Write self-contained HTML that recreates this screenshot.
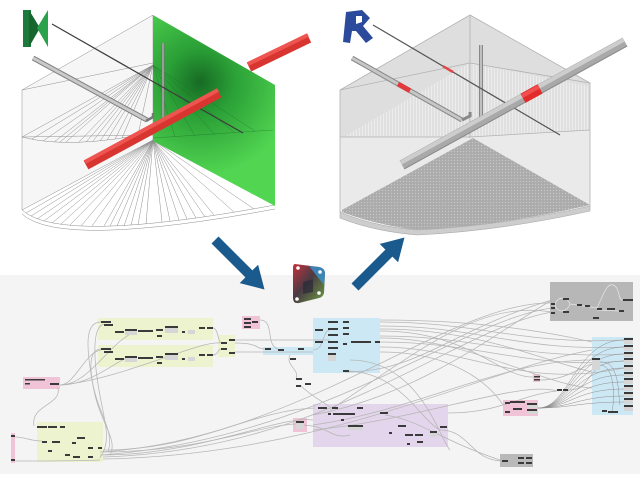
<!DOCTYPE html>
<html><head><meta charset="utf-8"><style>
html,body{margin:0;padding:0;background:#fff;}
svg{display:block;}
.d{fill:#3a3a3a}.l{fill:#d6d6d6}.w{fill:none;stroke:#b6b6b6;stroke-width:.75}
.f{stroke:#8e8e8e;stroke-width:.5;fill:none}
</style></head><body>
<svg width="640" height="480" viewBox="0 0 640 480" xmlns="http://www.w3.org/2000/svg">
<defs>
<radialGradient id="gg" cx="200" cy="82" r="95" gradientUnits="userSpaceOnUse">
<stop offset="0" stop-color="#176a24"/><stop offset="0.35" stop-color="#2a9f36"/><stop offset="1" stop-color="#52d652"/></radialGradient>
<pattern id="hatch" width="3" height="6" patternUnits="userSpaceOnUse"><rect width="3" height="6" fill="#ececec"/><line x1="1" y1="0" x2="1" y2="6" stroke="#c4c4c4" stroke-width=".6"/></pattern>
<pattern id="dots" width="3" height="3" patternUnits="userSpaceOnUse"><rect width="3" height="3" fill="#ababab"/><circle cx="1.5" cy="1.5" r=".7" fill="#c6c6c6"/></pattern>
<linearGradient id="dyn" x1="0" y1="0" x2="1" y2="1"><stop offset="0" stop-color="#c8323a"/><stop offset=".45" stop-color="#4a3a44"/><stop offset="1" stop-color="#6aa040"/></linearGradient>
</defs>

<!-- ============ LEFT SCENE ============ -->
<polygon points="22,90 153,15 153,140 22,210" fill="#f6f6f6"/>
<g class="f">
<line x1="22" y1="90" x2="22" y2="210"/>
<line x1="22" y1="90" x2="153" y2="15"/>
<line x1="22" y1="90" x2="153" y2="63"/>
<line x1="22" y1="137" x2="153" y2="135"/>
<line x1="22" y1="210" x2="153" y2="140"/>
<line x1="153" y1="15" x2="153" y2="140"/>
<path d="M22,210 Q60,245 275,205"/>
<path d="M22,214 Q60,249 275,209"/>
<path d="M22,137 Q70,150 155,132"/>
<line x1="153" y1="65" x2="22" y2="137"/><line x1="153" y1="65" x2="32" y2="139"/>
<line x1="153" y1="65" x2="43" y2="141"/><line x1="153" y1="65" x2="54" y2="142"/>
<line x1="153" y1="65" x2="66" y2="142"/><line x1="153" y1="65" x2="79" y2="142"/>
<line x1="153" y1="65" x2="93" y2="141"/><line x1="153" y1="65" x2="107" y2="140"/>
<line x1="153" y1="65" x2="122" y2="138"/><line x1="153" y1="65" x2="138" y2="135"/>
<line x1="153" y1="65" x2="60" y2="142"/><line x1="153" y1="65" x2="100" y2="141"/>
<line x1="153" y1="65" x2="86" y2="142"/><line x1="153" y1="65" x2="115" y2="139"/>
<line x1="153" y1="140" x2="26" y2="213"/><line x1="153" y1="140" x2="31" y2="216"/>
<line x1="153" y1="140" x2="37" y2="219"/><line x1="153" y1="140" x2="44" y2="221"/>
<line x1="153" y1="140" x2="52" y2="223"/><line x1="153" y1="140" x2="61" y2="224"/>
<line x1="153" y1="140" x2="70" y2="225"/><line x1="153" y1="140" x2="81" y2="226"/>
<line x1="153" y1="140" x2="92" y2="226"/><line x1="153" y1="140" x2="104" y2="226"/>
<line x1="153" y1="140" x2="117" y2="226"/><line x1="153" y1="140" x2="131" y2="225"/>
<line x1="153" y1="140" x2="146" y2="224"/><line x1="153" y1="140" x2="162" y2="222"/>
<line x1="153" y1="140" x2="179" y2="220"/><line x1="153" y1="140" x2="196" y2="218"/>
<line x1="153" y1="140" x2="214" y2="215"/><line x1="153" y1="140" x2="234" y2="212"/>
<line x1="153" y1="140" x2="254" y2="209"/><line x1="153" y1="140" x2="275" y2="205"/>
<line x1="153" y1="140" x2="110" y2="226"/><line x1="153" y1="140" x2="124" y2="226"/>
<line x1="153" y1="140" x2="138" y2="225"/><line x1="153" y1="140" x2="170" y2="221"/>
<line x1="153" y1="140" x2="187" y2="219"/><line x1="153" y1="140" x2="205" y2="217"/>
</g>
<polygon points="153,15 275,85 275,206 153,141" fill="url(#gg)"/>
<g stroke="#1d6b28" stroke-width=".5" opacity=".6">
<line x1="153" y1="65" x2="175" y2="137"/><line x1="153" y1="65" x2="195" y2="136"/>
<line x1="153" y1="65" x2="215" y2="135"/><line x1="153" y1="65" x2="235" y2="133"/>
<line x1="153" y1="65" x2="255" y2="131"/><line x1="153" y1="138" x2="273" y2="130"/>
</g>
<line x1="33" y1="58" x2="147" y2="120" stroke="#7f7f7f" stroke-width="5"/>
<line x1="33" y1="58" x2="147" y2="120" stroke="#c9c9c9" stroke-width="3"/>
<line x1="163" y1="43" x2="163" y2="124" stroke="#6f6f6f" stroke-width="3"/>
<line x1="163" y1="43" x2="163" y2="124" stroke="#b5b5b5" stroke-width="1.3"/>
<path d="M146,121 L153,117 L153,113" stroke="#777" stroke-width="2.5" fill="none"/>
<line x1="52" y1="24" x2="243" y2="133" stroke="#3d3d3d" stroke-width="1.2"/>
<line x1="86" y1="165" x2="219" y2="93" stroke="#d83530" stroke-width="10"/>
<line x1="85" y1="162" x2="218" y2="90" stroke="#ef5550" stroke-width="4"/>
<line x1="249" y1="67" x2="309" y2="38" stroke="#d83530" stroke-width="10"/>
<line x1="248" y1="64" x2="308" y2="35" stroke="#ef5550" stroke-width="4"/>
<polygon points="23,10 31,10 31,47 23,47" fill="#1e7a3c"/>
<polygon points="29,10 40,28 29,47" fill="#17652f"/>
<polygon points="48,10 37,28 48,47" fill="#2aa24c"/>

<!-- ============ RIGHT SCENE ============ -->
<polygon points="340,90 470,15 590,83 590,207 340,212" fill="#dedede"/>
<path d="M345,136 L470,63 L588,86 L588,130 Q480,142 345,136Z" fill="url(#hatch)"/>
<polygon points="340,137 470,137 590,130 590,207 340,212" fill="#eaeaea"/>
<path d="M342,210 L473,138 L590,205 Q500,226 417,230 Q372,224 342,212Z" fill="url(#dots)"/>
<path d="M340,212 Q372,226 417,230 Q500,226 590,206 L590,211 Q500,231 417,235 Q372,231 340,218Z" fill="#cdcdcd" stroke="#a9a9a9" stroke-width=".6"/>
<g stroke="#b2b2b2" stroke-width=".8" fill="none">
<polyline points="340,212 340,90 470,15 590,83 590,207"/>
<line x1="470" y1="15" x2="470" y2="138"/>
<line x1="340" y1="137" x2="470" y2="137"/>
<line x1="470" y1="137" x2="590" y2="130"/>
<line x1="340" y1="90" x2="470" y2="63"/>
<line x1="470" y1="63" x2="590" y2="83"/>
</g>
<line x1="352" y1="58" x2="462" y2="120" stroke="#858585" stroke-width="5"/>
<line x1="352" y1="58" x2="462" y2="120" stroke="#c6c6c6" stroke-width="3"/>
<line x1="398" y1="84" x2="410" y2="90.7" stroke="#e03a3a" stroke-width="5"/>
<line x1="481" y1="45" x2="481" y2="122" stroke="#888" stroke-width="4"/>
<line x1="481" y1="45" x2="481" y2="122" stroke="#c0c0c0" stroke-width="2"/>
<path d="M462,120 L470,116 L470,112" stroke="#888" stroke-width="3" fill="none"/>
<line x1="373" y1="25" x2="560" y2="135" stroke="#555" stroke-width="1.2"/>
<line x1="443" y1="66.2" x2="453" y2="72" stroke="#e04848" stroke-width="2.5"/>
<line x1="402" y1="165" x2="625" y2="42" stroke="#a9a9a9" stroke-width="10"/>
<line x1="400.8" y1="162.8" x2="623.8" y2="39.8" stroke="#cdcdcd" stroke-width="4"/>
<line x1="404.2" y1="168.9" x2="627.2" y2="45.9" stroke="#8a8a8a" stroke-width="1"/>
<line x1="523" y1="98.3" x2="540" y2="88.9" stroke="#e22c2c" stroke-width="10.5"/>
<line x1="522" y1="96" x2="539" y2="86.6" stroke="#f25050" stroke-width="4"/>
<polygon points="346,12 362,10 370,18 363,26 373,38 366,43 356,31 352,31 350,43 343,42" fill="#2b4a9c"/>
<polygon points="356,16 362,16 362,22 356,24" fill="#fff"/>

<!-- ============ GRAPH ============ -->
<rect x="0" y="275" width="640" height="199" fill="#f4f4f4"/>
<g>
<rect x="98" y="318" width="115" height="22" fill="#edf2cf"/>
<rect x="98" y="345" width="115" height="22" fill="#edf2cf"/>
<rect x="218" y="335" width="17" height="22" fill="#edf2cf"/>
<rect x="37" y="422" width="66" height="40" fill="#edf2cf"/>
<rect x="23" y="377" width="37" height="12" fill="#f0c4d6"/>
<rect x="11" y="433" width="4" height="30" fill="#f0c4d6"/>
<rect x="242" y="316" width="18" height="13" fill="#f0c4d6"/>
<rect x="293" y="418" width="14" height="14" fill="#f0c4d6"/>
<rect x="503" y="400" width="35" height="16" fill="#f0c4d6"/>
<rect x="533" y="374" width="7" height="8" fill="#f0c4d6"/>
<rect x="313" y="318" width="67" height="55" fill="#cde8f5"/>
<rect x="263" y="347" width="50" height="8" fill="#cde8f5"/>
<rect x="592" y="337" width="41" height="78" fill="#cde8f5"/>
<rect x="313" y="404" width="135" height="43" fill="#e3d5eb"/>
<rect x="550" y="282" width="83" height="39" fill="#b7b7b7"/>
<rect x="500" y="454" width="33" height="13" fill="#b9b9b9"/>
</g>
<g class="w">
<path d="M60,385 C90,385 110,340 137,331"/>
<path d="M60,385 C90,385 115,362 127,358"/>
<path d="M60,385 C75,385 85,352 101,350"/>
<path d="M58,388 C62,405 30,405 34,426"/>
<path d="M101,322 C85,322 86,345 92,380 C98,415 115,430 108,452"/>
<path d="M101,349 C90,349 88,365 95,395 C102,425 118,440 110,455"/>
<path d="M104,324 C94,326 92,350 99,390 C105,425 112,440 100,458"/>
<path d="M15,461 C60,461 80,461 100,460"/>
<path d="M15,437 C25,437 30,441 42,441"/>
<path d="M103,450 C200,450 250,410 315,408"/>
<path d="M103,452 C200,452 260,425 296,424"/>
<path d="M103,455 C200,455 280,415 313,420"/>
<path d="M100,452 C300,440 450,300 552,303"/>
<path d="M100,455 C320,440 460,320 552,308"/>
<path d="M103,457 C330,450 450,330 552,312"/>
<path d="M330,410 C420,350 480,300 552,312"/>
<path d="M313,425 C420,410 500,360 592,360"/>
<path d="M313,430 C420,420 520,380 557,391"/>
<path d="M313,415 C420,395 500,330 552,300"/>
<path d="M103,459 C330,455 480,370 592,350"/>
<path d="M380,322 C480,322 520,345 624,340"/>
<path d="M380,326 C480,326 520,352 624,347"/>
<path d="M380,331 C470,331 500,378 533,377"/>
<path d="M380,336 C480,336 520,360 624,354"/>
<path d="M380,342 C480,342 530,370 624,361"/>
<path d="M380,347 C470,347 520,390 624,368"/>
<path d="M380,352 C470,352 500,400 503,405"/>
<path d="M380,320 C470,320 540,330 592,342"/>
<path d="M380,329 C480,329 540,360 592,372"/>
<path d="M380,338 C470,338 540,385 592,388"/>
<path d="M345,371 C400,371 420,420 440,430"/>
<path d="M350,360 C420,360 440,440 450,450"/>
<path d="M345,372 C420,372 450,330 552,300"/>
<path d="M440,430 C470,430 470,460 502,461"/>
<path d="M448,413 C500,413 520,395 557,391"/>
<path d="M213,328 C218,328 218,342 221,343"/>
<path d="M213,355 C218,355 218,349 221,349"/>
<path d="M235,343 C260,343 255,349 265,349"/>
<path d="M235,352 L313,352"/>
<path d="M235,340 L330,340"/>
<path d="M260,320 C275,320 265,345 278,349"/>
<path d="M290,355 C285,365 300,370 296,378"/>
<path d="M300,385 C310,395 320,400 330,407"/>
<path d="M313,350 C325,350 322,330 330,330"/>
<path d="M568,390 C585,390 585,380 600,365"/>
<path d="M540,380 C570,380 580,365 600,362"/>
<path d="M60,385 C120,380 200,340 220,343"/>
<path d="M300,425 C330,425 330,440 350,435"/>
<path d="M385,415 C420,420 440,440 500,460"/>
</g>
<g fill="none" stroke="#8e8e8e" stroke-width=".5">
<path d="M538,408 C570,408 575,340 624,340"/><path d="M538,408 C570,408 575,347 624,347"/>
<path d="M538,408 C570,408 575,354 624,354"/><path d="M538,408 C570,408 575,361 624,361"/>
<path d="M538,408 C570,408 575,368 624,368"/><path d="M538,408 C570,408 575,375 624,375"/>
<path d="M538,408 C570,408 575,382 624,382"/><path d="M538,408 C570,408 575,389 624,389"/>
<path d="M538,408 C570,408 580,396 624,396"/><path d="M538,408 C570,408 580,402 624,402"/>
<path d="M600,365 C615,365 615,400 612,411"/><path d="M600,362 C620,360 618,395 620,405"/>
</g>
<g stroke="#e6e6e6" stroke-width=".7" fill="none">
<path d="M555,305 C557,296 567,296 570,304 C567,313 557,313 555,305"/>
<path d="M597,308 C605,290 608,283 613,285 C620,287 618,300 622,300"/>
<path d="M570,304 L597,308"/><path d="M597,310 L619,311"/>
</g>
<g class="d">
<rect x="101" y="321" width="10" height="2"/><rect x="104" y="324" width="9" height="2"/><rect x="115" y="331" width="9" height="2"/>
<rect x="125" y="329" width="12" height="2"/><rect x="138" y="330" width="15" height="2"/><rect x="156" y="329" width="7" height="2"/>
<rect x="157" y="335" width="5" height="2"/><rect x="165" y="326" width="13" height="2"/><rect x="182" y="331" width="3" height="2"/>
<rect x="199" y="327" width="6" height="2"/><rect x="207" y="327" width="6" height="2"/>
<rect x="101" y="348" width="10" height="2"/><rect x="104" y="351" width="9" height="2"/><rect x="115" y="358" width="9" height="2"/>
<rect x="125" y="356" width="12" height="2"/><rect x="138" y="357" width="15" height="2"/><rect x="156" y="356" width="7" height="2"/>
<rect x="157" y="362" width="5" height="2"/><rect x="165" y="353" width="13" height="2"/><rect x="182" y="358" width="3" height="2"/>
<rect x="199" y="354" width="6" height="2"/><rect x="207" y="354" width="6" height="2"/>
<rect x="221" y="342" width="6" height="2"/><rect x="229" y="339" width="6" height="2"/><rect x="221" y="348" width="6" height="2"/><rect x="229" y="352" width="6" height="2"/>
<rect x="25" y="379" width="20" height="1.5"/><rect x="25" y="383" width="5" height="1.5"/><rect x="50" y="383" width="9" height="2"/>
<rect x="11" y="435" width="4" height="2"/><rect x="11" y="459" width="4" height="2"/>
<rect x="37" y="426" width="10" height="2"/><rect x="48" y="426" width="9" height="2"/><rect x="60" y="426" width="5" height="2"/>
<rect x="42" y="441" width="5" height="2"/><rect x="52" y="441" width="8" height="2"/><rect x="48" y="450" width="4" height="2"/>
<rect x="72" y="442" width="4" height="2"/><rect x="77" y="437" width="8" height="2"/><rect x="65" y="454" width="5" height="2"/>
<rect x="73" y="456" width="7" height="2"/><rect x="88" y="447" width="5" height="2"/><rect x="98" y="447" width="4" height="2"/><rect x="88" y="456" width="5" height="2"/>
<rect x="244" y="318" width="7" height="2"/><rect x="244" y="322" width="7" height="2"/><rect x="252" y="321" width="6" height="2"/><rect x="244" y="326" width="7" height="2"/>
<rect x="265" y="348" width="6" height="2"/><rect x="278" y="349" width="6" height="2"/><rect x="298" y="348" width="6" height="2"/>
<rect x="290" y="358" width="6" height="2"/><rect x="296" y="378" width="6" height="2"/><rect x="305" y="383" width="6" height="2"/><rect x="296" y="385" width="5" height="2"/>
<rect x="328" y="321" width="10" height="2"/><rect x="328" y="328" width="10" height="2"/><rect x="328" y="334" width="10" height="2"/>
<rect x="328" y="341" width="10" height="2"/><rect x="328" y="347" width="10" height="2"/><rect x="328" y="353" width="8" height="2"/>
<rect x="343" y="321" width="6" height="2"/><rect x="343" y="327" width="6" height="2"/><rect x="343" y="333" width="6" height="2"/>
<rect x="343" y="343" width="4" height="2"/><rect x="351" y="341" width="20" height="2"/><rect x="375" y="341" width="5" height="2"/>
<rect x="315" y="329" width="8" height="2"/><rect x="315" y="341" width="8" height="2"/><rect x="343" y="370" width="6" height="2"/>
<rect x="318" y="407" width="9" height="2"/><rect x="332" y="407" width="6" height="2"/><rect x="357" y="407" width="6" height="2"/>
<rect x="333" y="413" width="22" height="2"/><rect x="328" y="413" width="3" height="2"/><rect x="341" y="419" width="3" height="2"/>
<rect x="348" y="425" width="15" height="2"/><rect x="380" y="412" width="8" height="2"/><rect x="389" y="432" width="3" height="2"/>
<rect x="398" y="425" width="8" height="2"/><rect x="405" y="434" width="8" height="2"/><rect x="415" y="434" width="8" height="2"/>
<rect x="417" y="441" width="6" height="2"/><rect x="407" y="443" width="3" height="2"/><rect x="430" y="431" width="7" height="2"/><rect x="440" y="426" width="7" height="2"/>
<rect x="296" y="421" width="8" height="2"/>
<rect x="551" y="303" width="4" height="2"/><rect x="551" y="307" width="4" height="2"/><rect x="551" y="312" width="4" height="2"/>
<rect x="563" y="298" width="6" height="2"/><rect x="563" y="311" width="6" height="2"/><rect x="577" y="304" width="5" height="2"/>
<rect x="585" y="305" width="5" height="2"/><rect x="597" y="308" width="5" height="2"/><rect x="593" y="317" width="6" height="2"/>
<rect x="607" y="308" width="8" height="2"/><rect x="619" y="310" width="5" height="2"/><rect x="623" y="299" width="10" height="2"/>
<rect x="624" y="338" width="9" height="2"/><rect x="624" y="345" width="9" height="2"/><rect x="624" y="352" width="9" height="2"/>
<rect x="624" y="358" width="9" height="2"/><rect x="624" y="365" width="9" height="2"/><rect x="624" y="372" width="9" height="2"/>
<rect x="624" y="378" width="9" height="2"/><rect x="624" y="385" width="9" height="2"/><rect x="624" y="392" width="9" height="2"/>
<rect x="624" y="398" width="9" height="2"/><rect x="624" y="405" width="9" height="2"/><rect x="592" y="358" width="8" height="2"/>
<rect x="602" y="410" width="5" height="2"/><rect x="608" y="411" width="10" height="2"/>
<rect x="505" y="402" width="5" height="2"/><rect x="510" y="401" width="15" height="2"/><rect x="527" y="403" width="10" height="2"/>
<rect x="505" y="411" width="5" height="2"/><rect x="513" y="408" width="9" height="2"/><rect x="527" y="409" width="10" height="2"/>
<rect x="534" y="376" width="6" height="1.5"/><rect x="534" y="379" width="6" height="1.5"/>
<rect x="557" y="389" width="5" height="2"/><rect x="563" y="389" width="5" height="2"/>
<rect x="502" y="460" width="6" height="2"/><rect x="518" y="457" width="6" height="2"/><rect x="526" y="457" width="6" height="2"/>
<rect x="518" y="462" width="6" height="2"/><rect x="526" y="462" width="6" height="2"/>
</g>
<g class="l">
<rect x="125" y="331" width="12" height="4"/><rect x="165" y="328" width="13" height="5"/><rect x="188" y="330" width="7" height="4"/>
<rect x="125" y="358" width="12" height="4"/><rect x="165" y="355" width="13" height="5"/><rect x="188" y="357" width="7" height="4"/>
<rect x="328" y="355" width="8" height="6"/><rect x="348" y="427" width="15" height="3"/><rect x="430" y="433" width="7" height="4"/>
<rect x="296" y="423" width="8" height="6"/><rect x="592" y="360" width="8" height="10"/>
<rect x="624" y="340" width="9" height="4"/><rect x="624" y="347" width="9" height="4"/><rect x="624" y="354" width="9" height="3"/>
<rect x="624" y="360" width="9" height="4"/><rect x="624" y="367" width="9" height="4"/><rect x="624" y="374" width="9" height="3"/>
<rect x="624" y="380" width="9" height="4"/><rect x="624" y="387" width="9" height="4"/><rect x="624" y="394" width="9" height="3"/>
<rect x="624" y="400" width="9" height="4"/><rect x="624" y="407" width="9" height="4"/>
<rect x="527" y="405" width="10" height="3"/><rect x="527" y="411" width="10" height="3"/>
</g>

<polygon points="218.5,236.5 252.4,270.4 258.1,264.7 264.5,289.5 239.7,283.1 245.4,277.4 211.5,243.5" fill="#1b5a8c"/>
<polygon points="351.5,283.5 385.4,249.6 379.7,243.9 404.5,237.5 398.1,262.3 392.4,256.6 358.5,290.5" fill="#1b5a8c"/>
<path d="M295,264 L319,267 Q325,268 325,274 L324,293 Q323,297 319,298 L299,303 Q293,304 293,298 L293,268 Q293,264 295,264Z" fill="url(#dyn)"/>
<path d="M309,266 L319,267 Q325,268 325,274 L324,285 Z" fill="#3a8fc8" opacity=".85"/>
<path d="M303,282 L313,279 L313,292 L303,294Z" fill="#2a2a38" opacity=".7"/>
<circle cx="298" cy="268" r="1.8" fill="#fff"/><circle cx="320" cy="272" r="1.8" fill="#fff"/>
<circle cx="319" cy="293" r="1.8" fill="#fff"/><circle cx="297" cy="299" r="1.8" fill="#fff"/>
</svg>
</body></html>
